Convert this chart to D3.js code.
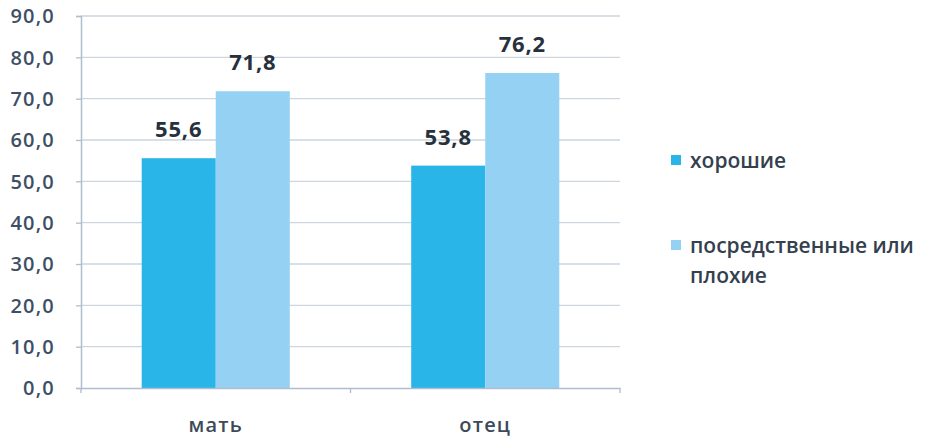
<!DOCTYPE html>
<html><head><meta charset="utf-8">
<script src="https://cdnjs.cloudflare.com/ajax/libs/d3/7.8.5/d3.min.js"></script>
<style>body{margin:0;background:#fff}svg{display:block}</style>
</head><body><svg id="c" width="931" height="439"></svg>
<script>
const categories = ["мать", "отец"];
const seriesNames = ["хорошие", "посредственные или плохие"];
const goodValues = [55.6, 53.8];
const poorValues = [71.8, 76.2];
const yTicks = [0, 10, 20, 30, 40, 50, 60, 70, 80, 90];
const colors = ["#29b5e8", "#95d1f3"];

const svg = d3.select("#c");
const m = {l: 81, r: 311, t: 16, b: 51};
const W = 931, H = 439;
const x = d3.scaleBand().domain(categories).range([m.l, W - m.r]);
const xs = d3.scaleBand().domain([0, 1]).range([0, x.bandwidth()]).paddingInner(0).paddingOuter(0.82);
const y = d3.scaleLinear().domain([0, 90]).range([H - m.b, m.t]);
const fmt = v => d3.format(".1f")(v).replace(".", ",");
const axisCol = "#aebdd0";

// gridlines
svg.append("g").selectAll("line").data(yTicks.slice(1)).join("line")
  .attr("x1", m.l).attr("x2", W - m.r).attr("y1", d => y(d)).attr("y2", d => y(d))
  .attr("stroke", "#cdd5df").attr("stroke-width", 1.3);

// y axis
const ya = svg.append("g").attr("transform", `translate(${m.l},0)`)
  .call(d3.axisLeft(y).tickValues(yTicks).tickFormat(fmt).tickSize(5).tickPadding(21));
ya.select(".domain").attr("stroke", axisCol).attr("stroke-width", 1.5);
ya.selectAll(".tick line").attr("stroke", axisCol).attr("stroke-width", 1.3);
ya.selectAll("text").attr("font-family", "Open Sans").attr("font-size", 20).attr("font-weight", 600)
  .attr("letter-spacing", "1.2px").attr("fill", "#3d4f66").attr("dy", "0.34em");

// bars
const data = categories.map((c, i) => [goodValues[i], poorValues[i]]);
const g = svg.append("g");
categories.forEach((c, i) => {
  data[i].forEach((v, j) => {
    g.append("rect").attr("x", x(c) + xs(j)).attr("width", xs.bandwidth())
      .attr("y", y(v)).attr("height", y(0) - y(v)).attr("fill", colors[j]);
    g.append("text").attr("x", x(c) + xs(j) + xs.bandwidth() / 2).attr("y", y(v) - 21)
      .attr("text-anchor", "middle").attr("font-family", "Open Sans").attr("font-size", 22)
      .attr("letter-spacing", "0.8px").attr("font-weight", 700).attr("fill", "#27313d").text(fmt(v));
  });
});

// x axis
const xa = svg.append("g").attr("transform", `translate(0,${y(0)})`)
  .call(d3.axisBottom(x).tickSize(0).tickPadding(0));
xa.select(".domain").attr("stroke", axisCol).attr("stroke-width", 1.5);
xa.selectAll("text").attr("font-family", "Open Sans").attr("font-size", 20).attr("font-weight", 600)
  .attr("letter-spacing", "1.2px").attr("fill", "#3d4a5a").attr("dy", 0).attr("y", 44);
svg.append("g").selectAll("line").data([m.l, x(categories[1]), W - m.r]).join("line")
  .attr("x1", d => d).attr("x2", d => d).attr("y1", y(0)).attr("y2", y(0) + 5)
  .attr("stroke", axisCol).attr("stroke-width", 1.3);

// legend
const leg = svg.append("g").attr("font-family", "Open Sans").attr("font-size", 21).attr("font-weight", 600)
  .attr("fill", "#34404e");
const legLines = [["хорошие"], ["посредственные или", "плохие"]];
const legY = [168, 253];
legLines.forEach((lines, i) => {
  leg.append("rect").attr("x", 671).attr("y", legY[i] - 13).attr("width", 10).attr("height", 10).attr("fill", colors[i]);
  lines.forEach((t, k) => leg.append("text").attr("x", 690).attr("y", legY[i] + k * 30).text(t));
});
</script></body></html>
